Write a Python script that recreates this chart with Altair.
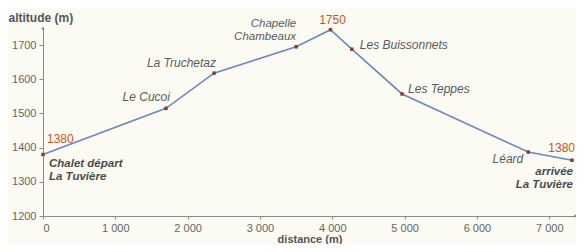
import altair as alt
import pandas as pd

# Profile points
distance = [0, 1700, 2365, 3500, 3975, 4270, 4965, 6710, 7315]
altitude = [1380, 1515, 1618, 1695, 1745, 1688, 1557, 1387, 1363]

# Annotations (text, point index)
label_texts = ["1380", "Chalet départ\nLa Tuvière", "Le Cucoi", "La Truchetaz",
               "Chapelle\nChambeaux", "1750", "Les Buissonnets", "Les Teppes",
               "Léard", "1380", "arrivée\nLa Tuvière"]
label_point = [0, 0, 1, 2, 3, 4, 5, 6, 7, 8, 8]
# style per label: (align, dx, dy, color, weight)
ORANGE = "#c8551f"
GRAY = "#5a5a5a"
DARK = "#4a4a4a"
label_style = [
    ("left", 4, -15, ORANGE, "normal"),
    ("left", 6, 10, DARK, "bold"),
    ("right", 4, -11, GRAY, "normal"),
    ("right", 2, -10, GRAY, "normal"),
    ("right", 0, -23, GRAY, "normal"),
    ("center", 2, -10, ORANGE, "normal"),
    ("left", 8, -4, GRAY, "normal"),
    ("left", 6, -5, GRAY, "normal"),
    ("right", -5, 7, GRAY, "normal"),
    ("right", 3, -12, ORANGE, "normal"),
    ("right", 1, 12, DARK, "bold"),
]

x_ticks = [0, 1000, 2000, 3000, 4000, 5000, 6000, 7000]
y_ticks = [1200, 1300, 1400, 1500, 1600, 1700]

FONT = "Liberation Sans"
AXIS_COL = "#8a8a8a"

df = pd.DataFrame({"distance": distance, "altitude": altitude})

xscale = alt.Scale(domain=[0, 7370], nice=False, zero=False)
yscale = alt.Scale(domain=[1200, 1750], nice=False, zero=False)

x_enc = alt.X("distance:Q", scale=xscale, axis=alt.Axis(
    values=x_ticks, title="distance (m)", grid=False, labelOverlap=False,
    labelExpr="replace(format(datum.value, ',d'), ',', ' ')",
    domainColor=AXIS_COL, tickColor=AXIS_COL, tickSize=3,
    labelColor="#666", labelFontSize=11, labelFont=FONT, labelPadding=3,
    titleFont=FONT, titleFontSize=11, titleFontWeight="bold", titleColor="#555",
    titlePadding=0))
y_enc = alt.Y("altitude:Q", scale=yscale, axis=alt.Axis(
    values=y_ticks, title="altitude (m)", grid=False, labelOverlap=False,
    format="d",
    domainColor=AXIS_COL, tickColor=AXIS_COL, tickSize=4,
    labelColor="#666", labelFontSize=11, labelFont=FONT, labelPadding=3,
    titleFont=FONT, titleFontSize=12, titleFontWeight="bold", titleColor="#555",
    titleAngle=0, titleAlign="left", titleBaseline="middle", titleX=-35, titleY=-11))

line = alt.Chart(df).mark_line(color="#6b88c4", strokeWidth=1.6).encode(x=x_enc, y=y_enc)
pts = alt.Chart(df).mark_square(color="#8e3a2c", size=12, opacity=1).encode(
    x=x_enc, y=y_enc)

arrows_df = pd.DataFrame({"distance": [7370, 0], "altitude": [1200, 1750],
                          "shape": ["triangle-right", "triangle-up"]})
arrows = alt.Chart(arrows_df).mark_point(filled=True, size=14, color=AXIS_COL, opacity=1).encode(
    x=x_enc, y=y_enc,
    shape=alt.Shape("shape:N", scale=None))

layers = [line, pts, arrows]
for txt, idx, (align, dx, dy, col, weight) in zip(label_texts, label_point, label_style):
    d = pd.DataFrame({"distance": [distance[idx]], "altitude": [altitude[idx]], "t": [txt]})
    multi = "\n" in txt
    layers.append(alt.Chart(d).mark_text(
        align=align, baseline="middle", dx=dx, dy=dy, color=col, font=FONT,
        fontSize=11.5 if multi else 12,
        fontStyle="normal" if col == ORANGE else "italic",
        fontWeight=weight, lineBreak="\n", lineHeight=13).encode(
        x=x_enc, y=y_enc, text="t:N"))

chart = alt.layer(*layers).properties(
    width=533, height=188,
    autosize=alt.AutoSizeParams(type="none"),
    padding={"left": 35, "top": 20, "right": 0, "bottom": 28},
    background="#fbfaf3",
).configure_view(stroke=None)

chart.save("out.html", embed_options={"renderer": "svg", "actions": False})
